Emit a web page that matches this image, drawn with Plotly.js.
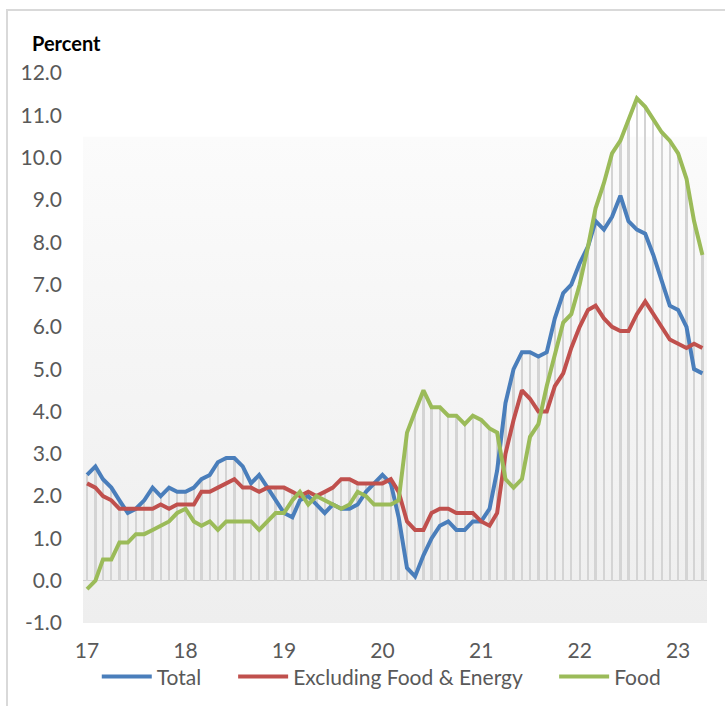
<!DOCTYPE html>
<html>
<head>
<meta charset="utf-8">
<script src="https://cdn.plot.ly/plotly-3.0.1.min.js"></script>
<style>
  html, body { margin: 0; padding: 0; background: #ffffff; overflow: hidden; width: 725px; height: 706px; }
  #frameTop { position: absolute; left: 6px; top: 9px; width: 719px; height: 2px; background: #d9d9d9; }
  #frameLeft { position: absolute; left: 6px; top: 9px; width: 2px; height: 697px; background: #d9d9d9; }
  #chart { position: absolute; left: 0; top: 0; width: 725px; height: 706px; }
</style>
</head>
<body>
<div id="frameTop"></div>
<div id="frameLeft"></div>
<div id="chart"></div>
<script>
// Monthly, Jan 2017 - Apr 2023, year-over-year percent change
const total = [
  2.5, 2.7, 2.4, 2.2, 1.9, 1.6, 1.7, 1.9, 2.2, 2.0, 2.2, 2.1,
  2.1, 2.2, 2.4, 2.5, 2.8, 2.9, 2.9, 2.7, 2.3, 2.5, 2.2, 1.9,
  1.6, 1.5, 1.9, 2.0, 1.8, 1.6, 1.8, 1.7, 1.7, 1.8, 2.1, 2.3,
  2.5, 2.3, 1.5, 0.3, 0.1, 0.6, 1.0, 1.3, 1.4, 1.2, 1.2, 1.4,
  1.4, 1.7, 2.6, 4.2, 5.0, 5.4, 5.4, 5.3, 5.4, 6.2, 6.8, 7.0,
  7.5, 7.9, 8.5, 8.3, 8.6, 9.1, 8.5, 8.3, 8.2, 7.7, 7.1, 6.5,
  6.4, 6.0, 5.0, 4.9
];
const core = [
  2.3, 2.2, 2.0, 1.9, 1.7, 1.7, 1.7, 1.7, 1.7, 1.8, 1.7, 1.8,
  1.8, 1.8, 2.1, 2.1, 2.2, 2.3, 2.4, 2.2, 2.2, 2.1, 2.2, 2.2,
  2.2, 2.1, 2.0, 2.1, 2.0, 2.1, 2.2, 2.4, 2.4, 2.3, 2.3, 2.3,
  2.3, 2.4, 2.1, 1.4, 1.2, 1.2, 1.6, 1.7, 1.7, 1.6, 1.6, 1.6,
  1.4, 1.3, 1.6, 3.0, 3.8, 4.5, 4.3, 4.0, 4.0, 4.6, 4.9, 5.5,
  6.0, 6.4, 6.5, 6.2, 6.0, 5.9, 5.9, 6.3, 6.6, 6.3, 6.0, 5.7,
  5.6, 5.5, 5.6, 5.5
];
const food = [
  -0.2, 0.0, 0.5, 0.5, 0.9, 0.9, 1.1, 1.1, 1.2, 1.3, 1.4, 1.6,
  1.7, 1.4, 1.3, 1.4, 1.2, 1.4, 1.4, 1.4, 1.4, 1.2, 1.4, 1.6,
  1.6, 1.9, 2.1, 1.8, 2.0, 1.9, 1.8, 1.7, 1.8, 2.1, 2.0, 1.8,
  1.8, 1.8, 1.9, 3.5, 4.0, 4.5, 4.1, 4.1, 3.9, 3.9, 3.7, 3.9,
  3.8, 3.6, 3.5, 2.4, 2.2, 2.4, 3.4, 3.7, 4.6, 5.3, 6.1, 6.3,
  7.0, 7.9, 8.8, 9.4, 10.1, 10.4, 10.9, 11.4, 11.2, 10.9, 10.6, 10.4,
  10.1, 9.5, 8.5, 7.7
];
const seriesNames = ["Total", "Excluding Food & Energy", "Food"];
const seriesColors = ["#4a7ebb", "#c0504d", "#9bbb59"];
const yTickValues = [-1, 0, 1, 2, 3, 4, 5, 6, 7, 8, 9, 10, 11, 12];
const yTickLabels = ["-1.0", "0.0", "1.0", "2.0", "3.0", "4.0", "5.0", "6.0",
                     "7.0", "8.0", "9.0", "10.0", "11.0", "12.0"];

// month dates, starting Jan 2017
const months = total.map((_, i) => {
  const y = 2017 + Math.floor(i / 12);
  const m = (i % 12) + 1;
  return y + "-" + String(m).padStart(2, "0") + "-01";
});
// drop lines: from axis up to highest series
const dropTop = total.map((v, i) => Math.max(v, core[i], food[i]));

const pad = "\u00a0\u00a0\u00a0\u00a0\u00a0";
const fontFam = "Lato, 'Open Sans', sans-serif";
const traces = [
  {
    type: "bar", x: months, y: dropTop, width: 7.4e8,
    marker: { color: "#d4d4d4", line: { width: 0 } },
    showlegend: false, hoverinfo: "skip"
  },
  { type: "scatter", mode: "lines", name: seriesNames[0] + pad, x: months, y: total,
    line: { color: seriesColors[0], width: 4 } },
  { type: "scatter", mode: "lines", name: seriesNames[1] + pad, x: months, y: core,
    line: { color: seriesColors[1], width: 4 } },
  { type: "scatter", mode: "lines", name: seriesNames[2], x: months, y: food,
    line: { color: seriesColors[2], width: 4 } }
];

const gradSvg = '<svg xmlns="http://www.w3.org/2000/svg" width="10" height="100" preserveAspectRatio="none">' +
  '<defs><linearGradient id="g" x1="0" y1="0" x2="0" y2="1">' +
  '<stop offset="0" stop-color="#fbfbfb"/><stop offset="1" stop-color="#eeeeee"/>' +
  '</linearGradient></defs><rect width="10" height="100" fill="url(#g)"/></svg>';

const layout = {
  width: 725, height: 706,
  margin: { l: 83, r: 18, t: 73, b: 83, autoexpand: false },
  paper_bgcolor: "rgba(0,0,0,0)",
  plot_bgcolor: "rgba(0,0,0,0)",
  font: { family: fontFam, color: "#595959", size: 21 },
  showlegend: true,
  bargap: 0,
  xaxis: {
    type: "date",
    range: ["2016-12-17", "2023-04-18"],
    tick0: "2017-01-01", dtick: "M12", tickformat: "%y",
    showgrid: false, showline: false, zeroline: false, ticks: "",
    ticklabelstandoff: 13, automargin: false,
    tickfont: { family: fontFam, size: 21, color: "#595959" }
  },
  yaxis: {
    range: [-1, 12], tickvals: yTickValues, ticktext: yTickLabels,
    showgrid: false, showline: false, ticks: "",
    zeroline: true, zerolinecolor: "#d0d0d0", zerolinewidth: 1.5,
    ticklabelstandoff: 20, automargin: false,
    tickfont: { family: fontFam, size: 21, color: "#595959" }
  },
  legend: {
    orientation: "h", x: 0.478, xanchor: "center", y: -0.098, yanchor: "middle",
    font: { family: fontFam, size: 21, color: "#595959" },
    bgcolor: "rgba(0,0,0,0)", traceorder: "normal", itemwidth: 50
  },
  images: [{
    source: "data:image/svg+xml;utf8," + encodeURIComponent(gradSvg),
    xref: "paper", yref: "y", x: 0, y: 10.5, sizex: 1, sizey: 11.5,
    xanchor: "left", yanchor: "top", sizing: "stretch", layer: "below"
  }],
  annotations: [{
    text: "<b>Percent</b>", xref: "paper", yref: "paper",
    x: -0.085, y: 1.0545, xanchor: "left", yanchor: "middle", showarrow: false,
    font: { family: fontFam, size: 20, color: "#000000" }
  }]
};

Plotly.newPlot("chart", traces, layout, { displayModeBar: false, staticPlot: true });
</script>
</body>
</html>
